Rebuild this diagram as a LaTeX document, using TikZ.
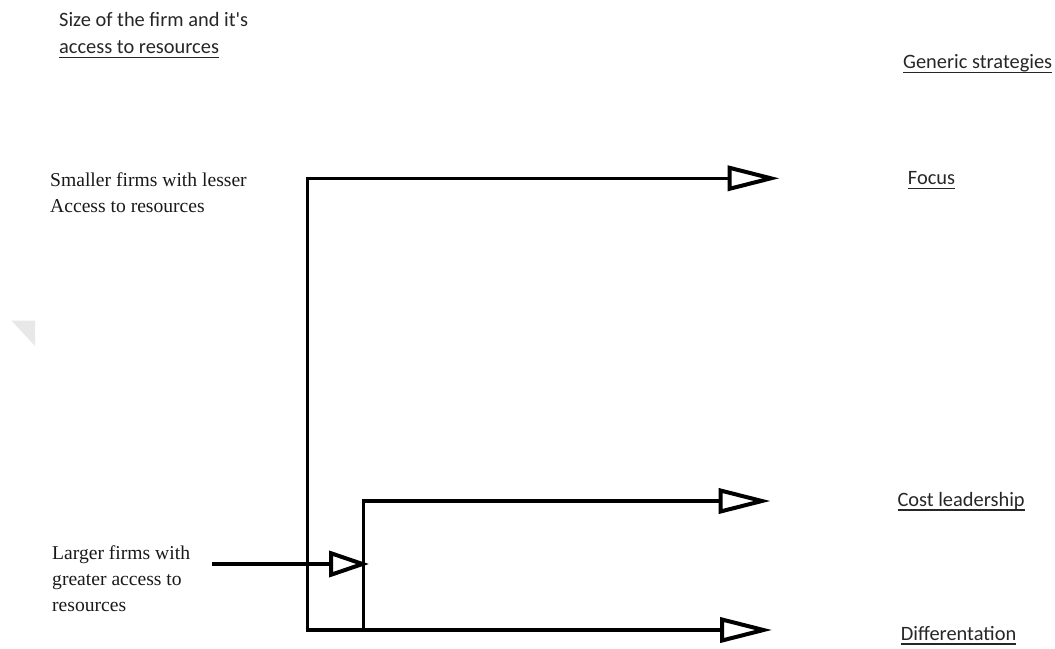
\documentclass[tikz,border=0pt]{standalone}
\usepackage{fontspec}
\setmainfont{Liberation Serif}
\newfontfamily\calfont{Carlito}
\usetikzlibrary{arrows.meta}
\newcommand\myul[1]{\setbox0\hbox{#1}\rlap{\rule[-4.6pt]{\wd0}{1.2pt}}\box0}
\tikzset{
  serif/.style={anchor=base west, inner sep=0pt, font=\fontsize{19.6}{25.8}\selectfont, align=left, text=black!90},
  sans/.style={anchor=base west, inner sep=0pt, font=\calfont\fontsize{20.4}{26.6}\selectfont, align=left, text=black!85},
  wire/.style={line width=3.3pt, black},
  bigtip/.tip={Triangle[open,length=52pt,width=25pt,line width=4pt]},
  smalltip/.tip={Triangle[open,length=40pt,width=26pt,line width=4pt]}
}
\begin{document}
\begin{tikzpicture}[x=1pt,y=-1pt]
\useasboundingbox (0,0) rectangle (1055,648);
\fill[gray!18] (11.5,320.7) -- (35,320.7) -- (35,346) -- cycle;

% texts (base anchor = baseline of the last line)
\node[sans] (size) at (59,53.3) {Size of the firm and it's\\\myul{access to resources}};
\node[sans] (gen) at (903,68.3) {\myul{Generic strategies}};
\node[sans] (focus) at (907.7,184.3) {\myul{Focus}};
\node[sans] (cost) at (897.3,506) {\myul{Cost leadership}};
\node[sans] (diff) at (900.7,640) {\myul{Differentation}};
\node[serif] (small) at (50,212) {Smaller firms with lesser\\Access to resources};
\node[serif] (large) at (52,611.3) {Larger firms with\\greater access to\\resources};

% junctions
\coordinate (tl) at (307.7,178.3);
\coordinate (bl) at (307.7,630);
\coordinate (fT) at (779.5,178.3);
\coordinate (dT) at (772,630);
\coordinate (j2t) at (363.3,501);
\coordinate (j2b) at (363.3,630);
\coordinate (cT) at (770.5,501);
\coordinate (inS) at (212,564);
\coordinate (inT) at (369,564);

% connectors
\draw[wire, {bigtip}-{bigtip}] (fT) -- (tl) -- (bl) -- (dT);
\draw[wire, -{bigtip}] (j2b) -- (j2t) -- (cT);
\draw[wire, -{smalltip}] (inS) -- (inT);
\end{tikzpicture}
\end{document}
